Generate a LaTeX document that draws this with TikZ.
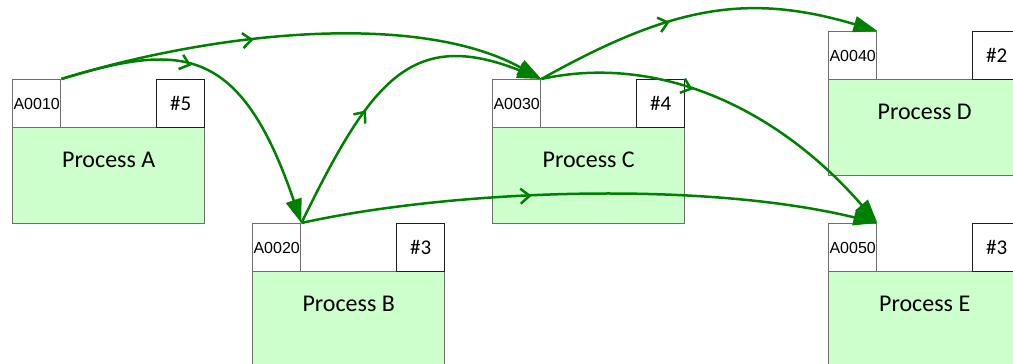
\documentclass[tikz,border=0pt]{standalone}
\usepackage{fontspec}
\setmainfont{Carlito}
\newfontfamily\idfont{Liberation Sans}
\usetikzlibrary{arrows.meta, decorations.markings}
\definecolor{flowgreen}{RGB}{0,128,0}
\definecolor{procfill}{RGB}{204,255,204}
\definecolor{boxline}{RGB}{110,110,110}
\definecolor{numline}{RGB}{30,30,30}

\begin{document}
\begin{tikzpicture}[x=0.5pt, y=-0.5pt,
      idbox/.style={draw=boxline, line width=0.7pt, fill=white, anchor=north west, minimum width=24pt, minimum height=24pt, inner sep=0pt, font=\idfont\fontsize{8}{9}\selectfont},
      numbox/.style={draw=numline, line width=0.6pt, fill=white, anchor=north west, minimum width=24pt, minimum height=24pt, inner sep=0pt, font=\fontsize{10.5}{12}\selectfont},
      procbox/.style={draw=boxline, line width=0.7pt, fill=procfill, anchor=north west, minimum width=96pt, minimum height=48pt, inner sep=0pt},
      proclabel/.style={inner sep=0pt, font=\fontsize{12}{14}\selectfont},
      flow/.style={draw=flowgreen, color=flowgreen, line width=1.25pt, -{Triangle[length=12pt,width=8pt]},
        postaction={decorate}, decoration={markings, mark=at position 0.4 with {\arrow{Straight Barb[length=4.5pt,width=7.5pt]}}}}]
    \useasboundingbox (0,0) rectangle (1013,364);
    % process A
    \node[procbox] (pa) at (12,127) {};
    \node[idbox] (aid) at (12,79) {A0010};
    \node[numbox] (anum) at (156,79) {\#5};
    \node[proclabel] (palab) at ([yshift=-16.5pt]pa.north) {Process A};
    % process B
    \node[procbox] (pb) at (252,271) {};
    \node[idbox] (bid) at (252,223) {A0020};
    \node[numbox] (bnum) at (396,223) {\#3};
    \node[proclabel] (pblab) at ([yshift=-16.5pt]pb.north) {Process B};
    % process C
    \node[procbox] (pc) at (492,127) {};
    \node[idbox] (cid) at (492,79) {A0030};
    \node[numbox] (cnum) at (636,79) {\#4};
    \node[proclabel] (pclab) at ([yshift=-16.5pt]pc.north) {Process C};
    % process D
    \node[procbox] (pd) at (828,79) {};
    \node[idbox] (did) at (828,31) {A0040};
    \node[numbox] (dnum) at (972,31) {\#2};
    \node[proclabel] (pdlab) at ([yshift=-16.5pt]pd.north) {Process D};
    % process E
    \node[procbox] (pe) at (828,271) {};
    \node[idbox] (eid) at (828,223) {A0050};
    \node[numbox] (enum) at (972,223) {\#3};
    \node[proclabel] (pelab) at ([yshift=-16.5pt]pe.north) {Process E};
    % flows
    \draw[flow] (aid.north east) .. controls (220,30) and (420,12) .. (cid.north east);
    \draw[flow] (aid.north east) .. controls (180,43) and (240,43) .. (bid.north east);
    \draw[flow] (bid.north east) .. controls (370,83) and (410,27) .. (cid.north east);
    \draw[flow] (bid.north east) .. controls (450,190) and (700,180) .. (eid.north east);
    \draw[flow] (cid.north east) .. controls (670,7) and (746,-8) .. (did.north east);
    \draw[flow] (cid.north east) .. controls (650,55) and (770,100) .. (eid.north east);
\end{tikzpicture}
\end{document}
